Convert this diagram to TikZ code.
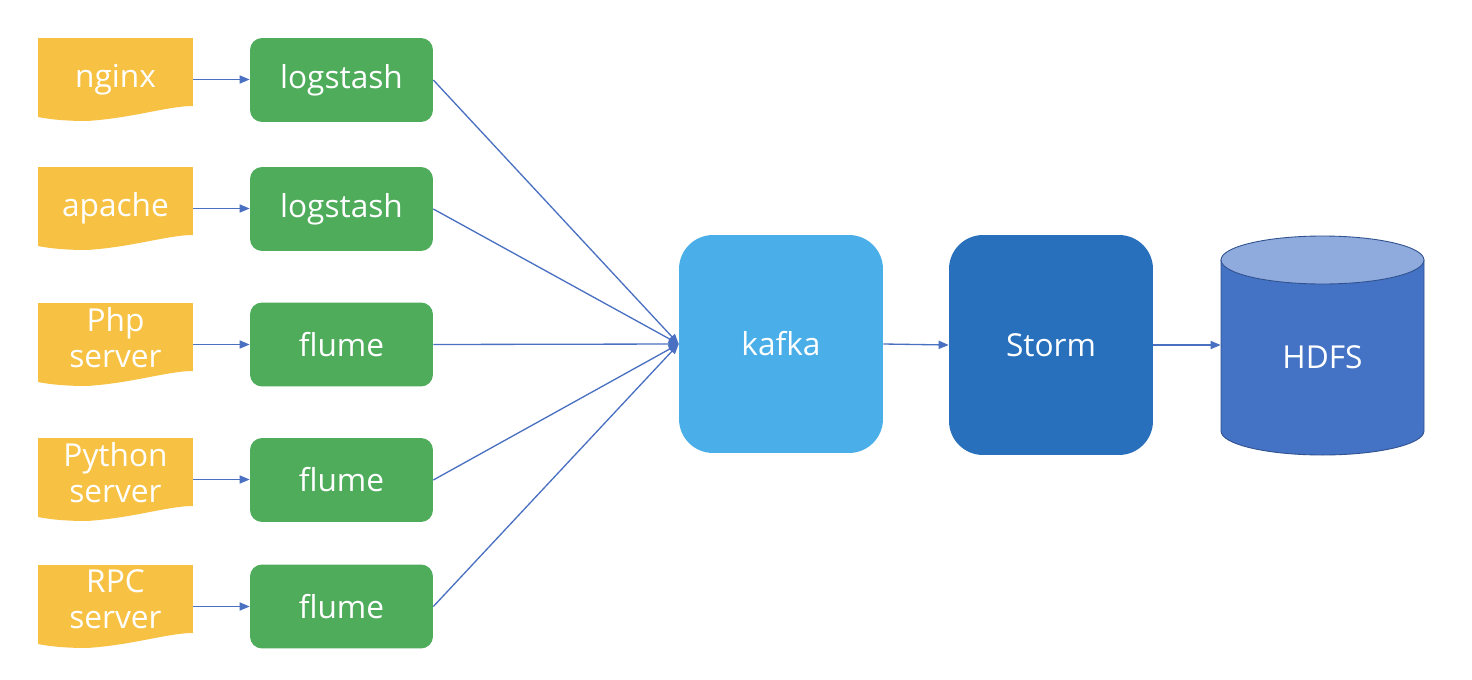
\documentclass[tikz,border=0pt]{standalone}
\usepackage{fontspec}
\setmainfont{Open Sans}
\usetikzlibrary{arrows.meta}
\definecolor{docyellow}{HTML}{F7C244}
\definecolor{boxgreen}{HTML}{4EAC5B}
\definecolor{kafkablue}{HTML}{4AAFE8}
\definecolor{stormblue}{HTML}{2870BC}
\definecolor{hdfsbody}{HTML}{4472C4}
\definecolor{hdfstop}{HTML}{8FAADC}
\definecolor{hdfsline}{HTML}{2F528F}
\definecolor{arrowblue}{HTML}{4A70C2}
\begin{document}
\begin{tikzpicture}[x=0.02cm,y=-0.02cm,
  lbl/.style={text=white, font=\fontsize{18}{20.5}\selectfont, align=center},
  docnode/.style={lbl, minimum width=3.1cm, minimum height=1.66cm, inner sep=0pt,
    path picture={
      \fill[docyellow] (path picture bounding box.north west)
        -- (path picture bounding box.north east)
        -- ([yshift=-1.36cm]path picture bounding box.north east)
        .. controls ([xshift=2.6cm,yshift=-1.36cm]path picture bounding box.north west)
        and ([xshift=1.9cm,yshift=-1.6cm]path picture bounding box.north west)
        .. ([xshift=0.98cm,yshift=-1.66cm]path picture bounding box.north west)
        .. controls ([xshift=0.5cm,yshift=-1.66cm]path picture bounding box.north west)
        and ([xshift=0.2cm,yshift=-1.62cm]path picture bounding box.north west)
        .. ([yshift=-1.58cm]path picture bounding box.north west) -- cycle;
    }},
  twoline/.style={text depth=0.3cm},
  greenbox/.style={lbl, fill=boxgreen, rounded corners=0.24cm, minimum width=3.66cm,
    minimum height=1.68cm, inner sep=0pt},
  bigbox/.style={lbl, rounded corners=0.68cm, minimum width=4.08cm, inner sep=0pt},
  conn/.style={draw=arrowblue, line width=0.75pt, -{Triangle[length=5.7pt,width=4.6pt]}}
]
\fill[white] (0,0) rectangle (1472,680);

% sources
\node[docnode] (d1) at (115.5,79.5) {nginx};
\node[docnode] (d2) at (115.5,208.5) {apache};
\node[docnode,twoline] (d3) at (115.5,344.5) {Php\\server};
\node[docnode,twoline] (d4) at (115.5,479.5) {Python\\server};
\node[docnode,twoline] (d5) at (115.5,606.5) {RPC\\server};

% collectors
\node[greenbox] (g1) at (341.5,80) {logstash};
\node[greenbox] (g2) at (341.5,209) {logstash};
\node[greenbox] (g3) at (341.5,344.5) {flume};
\node[greenbox] (g4) at (341.5,480) {flume};
\node[greenbox] (g5) at (341.5,606.5) {flume};

% kafka and storm
\node[bigbox, fill=kafkablue, minimum height=4.36cm] (kafka) at (781,344) {kafka};
\node[bigbox, fill=stormblue, minimum height=4.4cm] (storm) at (1051,345) {Storm};

% HDFS cylinder
\fill[hdfsbody, draw=hdfsline, line width=0.5pt]
  (1221,260) -- (1221,431)
  .. controls (1221,444.2) and (1266.5,455) .. (1322.5,455)
  .. controls (1378.5,455) and (1424,444.2) .. (1424,431)
  -- (1424,260) -- cycle;
\fill[hdfstop, draw=hdfsline, line width=0.5pt] (1322.5,260) ellipse [x radius=101.5, y radius=24];
\node[lbl, minimum width=4.06cm, inner sep=0pt] (hdfs) at (1322.5,357) {HDFS};

% connectors
\foreach \i in {1,...,5}{
  \draw[conn] (d\i.east) -- (d\i.east -| g\i.west);
  \draw[conn] (g\i.east) -- (kafka.west);
}
\draw[conn] (kafka.east) -- (storm.west);
\draw[conn] (storm.east) -- (storm.east -| hdfs.west);
\end{tikzpicture}
\end{document}
